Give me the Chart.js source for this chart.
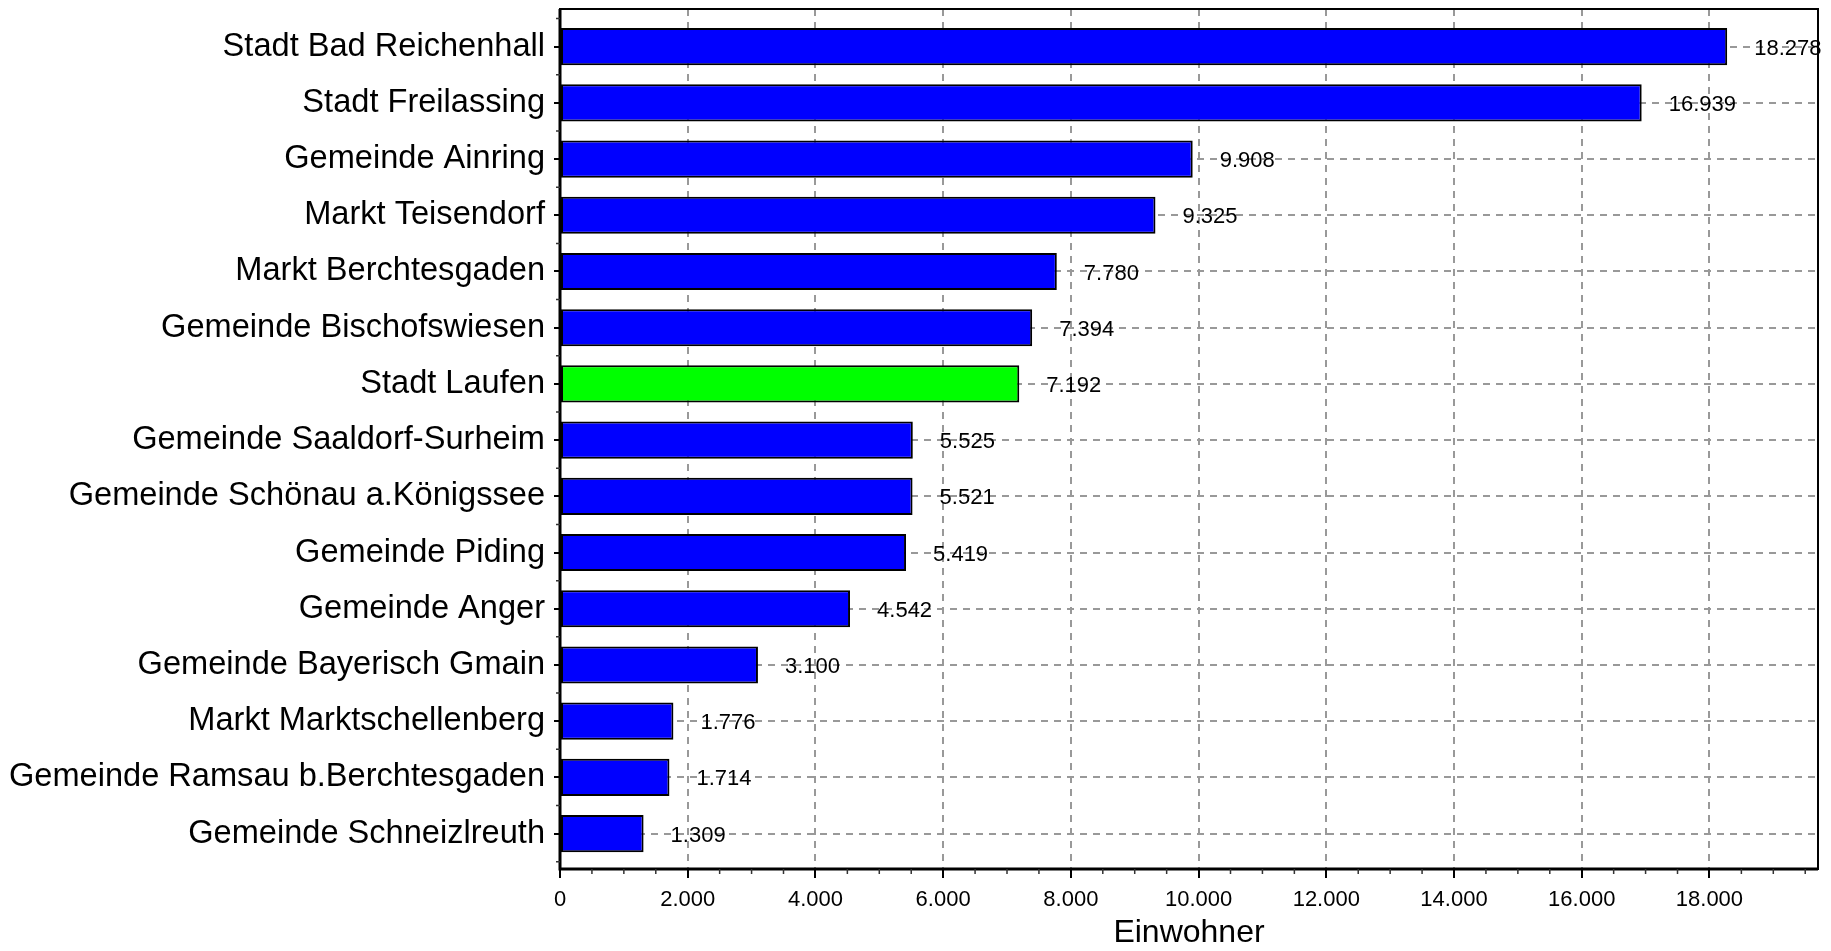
<!DOCTYPE html>
<html>
<head>
<meta charset="utf-8">
<script src="https://cdn.jsdelivr.net/npm/chart.js@4.4.1/dist/chart.umd.min.js"></script>
<style>
  html, body { margin: 0; padding: 0; background: #fff; }
  canvas { display: block; }
</style>
</head>
<body>
<canvas id="chart" width="1831" height="951"></canvas>
<script>
const categories = [
    'Stadt Bad Reichenhall',
    'Stadt Freilassing',
    'Gemeinde Ainring',
    'Markt Teisendorf',
    'Markt Berchtesgaden',
    'Gemeinde Bischofswiesen',
    'Stadt Laufen',
    'Gemeinde Saaldorf-Surheim',
    'Gemeinde Schönau a.Königssee',
    'Gemeinde Piding',
    'Gemeinde Anger',
    'Gemeinde Bayerisch Gmain',
    'Markt Marktschellenberg',
    'Gemeinde Ramsau b.Berchtesgaden',
    'Gemeinde Schneizlreuth'
];
const population = [18278, 16939, 9908, 9325, 7780, 7394, 7192, 5525, 5521, 5419, 4542, 3100, 1776, 1714, 1309];
const xTicks    = [0, 2000, 4000, 6000, 8000, 10000, 12000, 14000, 16000, 18000];
const xMax      = 19700;
const highlight = 'Stadt Laufen';
const axisTitle = 'Einwohner';

const FONT = "'Liberation Sans', Arial, sans-serif";
const fmt  = v => String(v).replace(/\B(?=(\d{3})+(?!\d))/g, '.');

// value labels right of each bar
const valueLabels = {
    id: 'valueLabels',
    afterDatasetsDraw(chart) {
        const { ctx } = chart;
        ctx.save();
        ctx.font = `22px ${FONT}`;
        ctx.fillStyle = '#000';
        ctx.textAlign = 'left';
        ctx.textBaseline = 'middle';
        chart.getDatasetMeta(0).data.forEach((bar, i) => {
            ctx.fillText(fmt(population[i]), bar.x + 27, bar.y + 2);
        });
        ctx.restore();
    }
};

// frame + minor ticks
const frame = {
    id: 'frame',
    afterDraw(chart) {
        const { ctx, chartArea: a, scales: { x, y } } = chart;
        ctx.save();
        ctx.strokeStyle = '#000';
        ctx.lineWidth = 2;
        ctx.strokeRect(a.left, a.top, a.right - a.left, a.bottom - a.top);
        ctx.lineWidth = 3;
        ctx.beginPath();
        ctx.moveTo(a.left, a.top);
        ctx.lineTo(a.left, a.bottom);
        ctx.lineTo(a.right, a.bottom);
        ctx.stroke();

        ctx.lineWidth = 1.5;
        ctx.strokeStyle = '#333';
        ctx.beginPath();
        for (let v = 500; v < xMax; v += 500) {
            if (v % 2000 === 0) continue;
            const px = x.getPixelForValue(v);
            ctx.moveTo(px, a.bottom);
            ctx.lineTo(px, a.bottom + 5);
        }
        for (let i = 0; i <= categories.length; i++) {
            const py = y.getPixelForValue(i - 0.5);
            if (py < a.top || py > a.bottom) continue;
            ctx.moveTo(a.left, py);
            ctx.lineTo(a.left - 4, py);
        }
        ctx.stroke();
        ctx.restore();
    }
};

new Chart(document.getElementById('chart'), {
    type: 'bar',
    data: {
        datasets: [{
            data: population.map((v, i) => ({ x: v, y: i })),
            backgroundColor: categories.map(c => c === highlight ? '#00ff00' : '#0000ff'),
            borderColor: '#000',
            borderWidth: 2,
            borderSkipped: false,
            barPercentage: 0.66,
            categoryPercentage: 1
        }]
    },
    options: {
        indexAxis: 'y',
        responsive: false,
        animation: false,
        layout: { padding: { top: 9, right: 13, bottom: 0, left: 0 } },
        plugins: { legend: { display: false }, tooltip: { enabled: false } },
        scales: {
            x: {
                type: 'linear', min: 0, max: xMax,
                afterBuildTicks: s => { s.ticks = xTicks.map(v => ({ value: v })); },
                afterFit: s => { s.height = 82; s.paddingLeft = 0; s.paddingRight = 0; },
                ticks: { callback: v => fmt(v), font: { family: FONT, size: 22 }, color: '#000', padding: 9, maxRotation: 0, autoSkip: false },
                grid: { color: '#999', lineWidth: 2, tickLength: 9, tickColor: '#000', tickWidth: 2 },
                border: { display: false, dash: [7, 6] },
                title: { display: true, text: axisTitle, color: '#000', font: { family: FONT, size: 32, lineHeight: 1.1 }, padding: { top: 0, bottom: 0 } }
            },
            y: {
                type: 'linear', reverse: true, offset: false,
                min: -0.67, max: categories.length - 1 + 0.63,
                afterBuildTicks: s => { s.ticks = categories.map((c, i) => ({ value: i })); },
                afterFit: s => { s.width = 560; s.paddingTop = 0; s.paddingBottom = 0; },
                ticks: { callback: v => categories[v], font: { family: FONT, size: 32.6 }, color: '#000', padding: 9, autoSkip: false },
                grid: { offset: false, color: '#999', lineWidth: 2, tickLength: 6, tickColor: '#000', tickWidth: 2 },
                border: { display: false, dash: [7, 6] }
            }
        }
    },
    plugins: [valueLabels, frame]
});
</script>
</body>
</html>
